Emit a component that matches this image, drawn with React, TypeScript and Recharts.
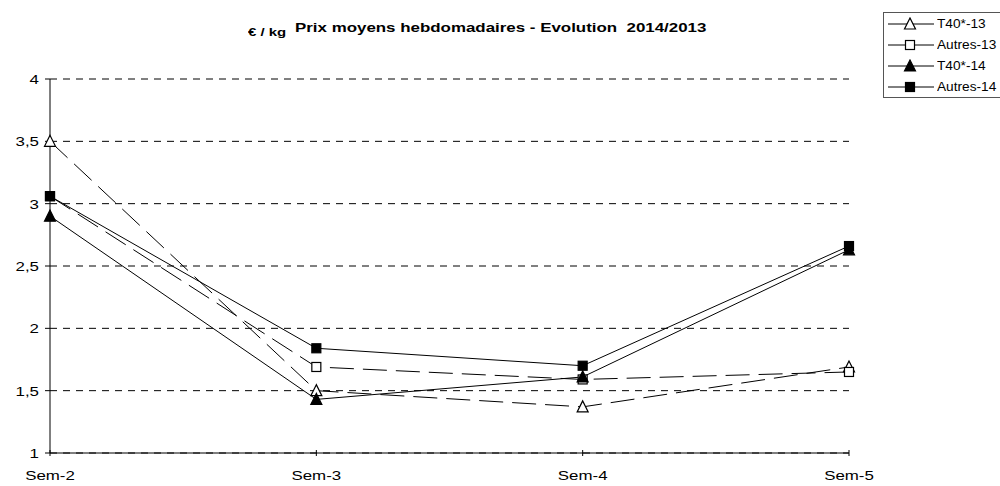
import React from 'react';
import { LineChart, Line, XAxis, YAxis, CartesianGrid } from 'recharts';

// weekly average prices (€ / kg)
const weeks = ['Sem-2', 'Sem-3', 'Sem-4', 'Sem-5'];
const t40_13 = [3.5, 1.5, 1.37, 1.69];
const autres_13 = [3.06, 1.69, 1.59, 1.65];
const t40_14 = [2.9, 1.43, 1.61, 2.63];
const autres_14 = [3.06, 1.84, 1.7, 2.66];
const yTicks = [1, 1.5, 2, 2.5, 3, 3.5, 4];

const data = weeks.map((w, i) => ({
  name: w,
  t40_13: t40_13[i],
  autres_13: autres_13[i],
  t40_14: t40_14[i],
  autres_14: autres_14[i],
}));

const FONT = '"Liberation Sans", Arial, sans-serif';
const STRETCH = 1.3; // the original picture's text is horizontally stretched

type Shape = 'triangle' | 'square';

const Marker = ({ cx, cy, shape, filled }: { cx: number; cy: number; shape: Shape; filled: boolean }) => {
  const fill = filled ? '#000' : '#fff';
  if (shape === 'triangle') {
    return (
      <polygon
        points={`${cx},${cy - 6} ${cx - 5.5},${cy + 5} ${cx + 5.5},${cy + 5}`}
        fill={fill}
        stroke="#000"
        strokeWidth={1.2}
      />
    );
  }
  return <rect x={cx - 4.5} y={cy - 4.5} width={9} height={9} fill={fill} stroke="#000" strokeWidth={1.2} />;
};

const makeDot = (shape: Shape, filled: boolean) => (props: any) => {
  const { cx, cy, index } = props;
  if (cx == null || cy == null) return <g key={index} />;
  return <Marker key={index} cx={cx} cy={cy} shape={shape} filled={filled} />;
};

const series = [
  { key: 't40_13', label: 'T40*-13', shape: 'triangle' as Shape, filled: false, dash: '24 9' },
  { key: 'autres_13', label: 'Autres-13', shape: 'square' as Shape, filled: false, dash: '24 9' },
  { key: 't40_14', label: 'T40*-14', shape: 'triangle' as Shape, filled: true, dash: undefined },
  { key: 'autres_14', label: 'Autres-14', shape: 'square' as Shape, filled: true, dash: undefined },
];

const XTick = (props: any) => {
  const { x, y, payload } = props;
  return (
    <text
      transform={`translate(${x},${y + 19}) scale(${STRETCH},1)`}
      textAnchor="middle"
      fontFamily={FONT}
      fontSize={13}
      fill="#000"
    >
      {payload.value}
    </text>
  );
};

const YTick = (props: any) => {
  const { x, y, payload } = props;
  return (
    <text
      transform={`translate(${x - 4},${y + 5}) scale(${STRETCH},1)`}
      textAnchor="end"
      fontFamily={FONT}
      fontSize={13}
      fill="#000"
    >
      {String(payload.value).replace('.', ',')}
    </text>
  );
};

const LegendBox = () => (
  <div
    style={{
      position: 'absolute',
      left: 883,
      top: 12,
      border: '1px solid #555',
      width: 130,
      height: 86,
      background: '#fff',
      fontFamily: FONT,
      fontSize: 12,
      boxSizing: 'border-box',
    }}
  >
    {series.map((s) => (
      <div key={s.key} style={{ display: 'flex', alignItems: 'center', height: 21 }}>
        <svg width={52} height={14} style={{ flex: 'none' }}>
          <line x1={4} y1={7} x2={50} y2={7} stroke="#000" strokeWidth={1} />
          <Marker cx={26} cy={7} shape={s.shape} filled={s.filled} />
        </svg>
        <span
          style={{
            display: 'inline-block',
            marginLeft: 1,
            transform: 'scaleX(1.14)',
            transformOrigin: 'left center',
            whiteSpace: 'pre',
          }}
        >
          {s.label}
        </span>
      </div>
    ))}
  </div>
);

const App = () => {
  return (
    <div style={{ position: 'absolute', left: 0, top: 0, width: 1000, height: 486, background: '#fff', overflow: 'hidden' }}>
      <div
        style={{
          position: 'absolute',
          left: 248,
          top: 26,
          fontFamily: FONT,
          fontWeight: 'bold',
          fontSize: 11.5,
          transform: `scaleX(${STRETCH})`,
          transformOrigin: 'left top',
        }}
      >
        € / kg
      </div>
      <div
        style={{
          position: 'absolute',
          left: 295,
          top: 20,
          fontFamily: FONT,
          fontWeight: 'bold',
          fontSize: 13,
          whiteSpace: 'pre',
          transform: `scaleX(${STRETCH})`,
          transformOrigin: 'left top',
        }}
      >
        {'Prix moyens hebdomadaires - Evolution  2014/2013'}
      </div>
      <LineChart width={1000} height={486} data={data} margin={{ top: 79, right: 151, bottom: 3, left: 10 }}>
        <CartesianGrid horizontal vertical={false} stroke="#000" strokeDasharray="7 6" />
        <XAxis
          dataKey="name"
          height={30}
          axisLine={{ stroke: '#000' }}
          tickLine={{ stroke: '#000', transform: 'translate(0, -3)' }}
          tickSize={6}
          tick={<XTick />}
        />
        <YAxis
          width={40}
          domain={[1, 4]}
          ticks={yTicks}
          axisLine={{ stroke: '#000' }}
          tickLine={{ stroke: '#000' }}
          tickSize={5}
          tick={<YTick />}
          interval={0}
        />
        {series.map((s) => (
          <Line
            key={s.key}
            type="linear"
            dataKey={s.key}
            name={s.label}
            stroke="#000"
            strokeWidth={1}
            strokeDasharray={s.dash}
            dot={makeDot(s.shape, s.filled)}
            activeDot={false}
            isAnimationActive={false}
          />
        ))}
      </LineChart>
      <LegendBox />
    </div>
  );
};

export default App;
